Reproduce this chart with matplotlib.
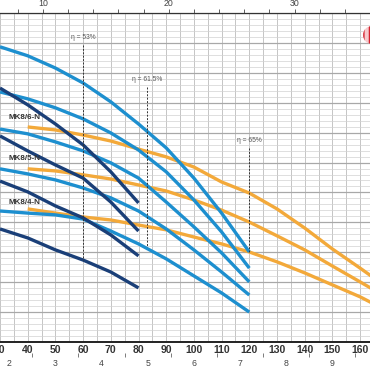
import matplotlib
matplotlib.use("Agg")
import matplotlib.pyplot as plt
from matplotlib.patches import Circle
import numpy as np

plt.rcParams['font.family'] = ['Liberation Sans', 'DejaVu Sans']

# ---- data (Q in l/min, H in m) ----
q_dark = [30, 40, 50, 60, 70, 80]
dark_curves = [
    [84.9, 79.3, 72.9, 65.9, 56.9, 46.5],
    [68.9, 63.9, 59.2, 54.8, 46.8, 37.1],
    [53.8, 50.2, 45.5, 41.5, 35.8, 28.8],
    [37.8, 34.8, 30.8, 27.4, 23.4, 18.1],
]

q_mid = [30, 40, 50, 60, 70, 80, 90, 100, 110, 120]
mid_curves = [
    [98.7, 95.7, 91.6, 86.6, 80.3, 72.9, 64.9, 54.8, 43.1, 30.1],
    [83.6, 81.3, 78.3, 74.6, 69.9, 64.2, 56.9, 47.5, 36.8, 24.7],
    [71.2, 69.6, 66.9, 63.9, 59.9, 54.8, 46.8, 38.5, 29.8, 20.1],
    [57.9, 56.2, 54.2, 51.5, 48.2, 43.8, 37.8, 30.8, 23.4, 15.7],
    [43.8, 43.1, 42.5, 41.1, 37.1, 32.8, 27.8, 22.1, 16.4, 10.0],
]

q_orange = [40, 50, 60, 70, 80, 90, 100, 110, 120, 130, 140, 150, 160, 165]
orange_curves = [
    [71.9, 70.9, 69.2, 67.2, 64.5, 61.9, 58.5, 53.5, 49.8, 44.5, 38.1, 31.1, 24.7, 21.4],
    [57.9, 57.2, 55.9, 54.5, 52.5, 50.5, 47.5, 44.1, 40.1, 35.5, 30.8, 25.4, 20.1, 17.4],
    [44.5, 43.1, 41.8, 40.8, 39.1, 37.5, 35.1, 32.8, 30.1, 26.8, 23.1, 19.1, 15.1, 12.7],
]
orange_labels = ["MK8/6-N", "MK8/5-N", "MK8/4-N"]
label_q = 32.9
label_h = [74.9, 61.5, 46.8]

eff_labels = ["η = 53%", "η = 61.5%", "η = 65%"]
eff_q = [60, 83.2, 120]
eff_top = [99.3, 85.3, 64.9]
eff_bottom = [27.4, 31.8, 30.1]
eff_text_h = [101.7, 87.6, 67.5]

bottom_ticks = [30, 40, 50, 60, 70, 80, 90, 100, 110, 120, 130, 140, 150, 160]
m3h_ticks = [2, 3, 4, 5, 6, 7, 8, 9]
igpm_ticks = [10, 20, 30]

# ---- figure ----
W = 370
fig = plt.figure(figsize=(3.7, 3.7), dpi=100)
ax = fig.add_axes([0, 1 - 342 / W, 1, (342 - 13) / W])
ax.set_xlim(31.43, 163.57)
ax.set_ylim(0, 110)

# grid
for q in np.arange(30, 170, 5):
    ax.axvline(q, color='#bcbcbc', lw=0.6, zorder=0)
for h in np.arange(0, 111, 2):
    major = (h % 10 == 0)
    ax.axhline(h, color='#a8a8a8' if major else '#d2d2d2',
               lw=0.9 if major else 0.5, zorder=0)

c_dark = '#1a3f78'
c_mid = '#1d8fcf'
c_orange = '#f3a93a'
lw = 2.4

for ys in orange_curves:
    ax.plot(q_orange, ys, color=c_orange, lw=lw, solid_capstyle='butt', zorder=2)
for ys in mid_curves:
    ax.plot(q_mid, ys, color=c_mid, lw=lw, solid_capstyle='butt', zorder=3)
for ys in dark_curves:
    ax.plot(q_dark, ys, color=c_dark, lw=lw, solid_capstyle='butt', zorder=4)

for t, hh in zip(orange_labels, label_h):
    ax.text(label_q, hh, t, fontsize=5.8, fontweight='bold', color='#333333',
            ha='left', va='center', zorder=6)

for t, q, top, bot, th in zip(eff_labels, eff_q, eff_top, eff_bottom, eff_text_h):
    ax.plot([q, q], [top, bot], color='#333333', lw=0.7, ls=(0, (2, 1.5)), zorder=5)
    ax.text(q, th, t, fontsize=4.8, color='#555555', ha='center', va='center', zorder=6)

# spines
for s in ['left', 'right']:
    ax.spines[s].set_visible(False)
ax.spines['bottom'].set_linewidth(1.4)
ax.spines['bottom'].set_color('#222222')
ax.spines['top'].set_linewidth(0.9)
ax.spines['top'].set_color('#333333')
ax.set_yticks([])
ax.set_xticks(bottom_ticks)
ax.set_xticklabels([str(v) for v in bottom_ticks])
ax.tick_params(axis='x', length=0, pad=2, labelsize=7.5, labelcolor='#333333')
for lab in ax.get_xticklabels():
    lab.set_fontweight('bold')

# secondary bottom axis m3/h
sec = ax.secondary_xaxis(-0.045, functions=(lambda q: q * 0.06, lambda m: m / 0.06))
sec.spines['bottom'].set_visible(False)
sec.set_xticks(m3h_ticks)
sec.set_xticks(np.arange(2.5, 10, 1.0), minor=True)
sec.tick_params(axis='x', which='major', length=0, pad=1.5, labelsize=6.3, labelcolor='#444444')
sec.tick_params(axis='x', which='minor', length=3, width=0.6, color='#666666', direction='in')

# top axis imperial gpm
top = ax.secondary_xaxis('top', functions=(lambda q: q / 4.546, lambda g: g * 4.546))
top.spines['top'].set_visible(False)
top.set_xticks(igpm_ticks)
top.set_xticks(np.arange(8, 38, 2), minor=True)
top.tick_params(axis='x', which='major', length=3, width=0.6, pad=0.5, labelsize=6.3,
                labelcolor='#444444', color='#444444')
top.tick_params(axis='x', which='minor', length=3, width=0.6, color='#444444')

# logo
logo = Circle((372 / W, 1 - 35 / W), 9 / W, transform=fig.transFigure,
              facecolor='#f6c9cb', edgecolor='#d4202c', hatch='|||', lw=0)
fig.patches.append(logo)

fig.savefig('out.png', dpi=100)
